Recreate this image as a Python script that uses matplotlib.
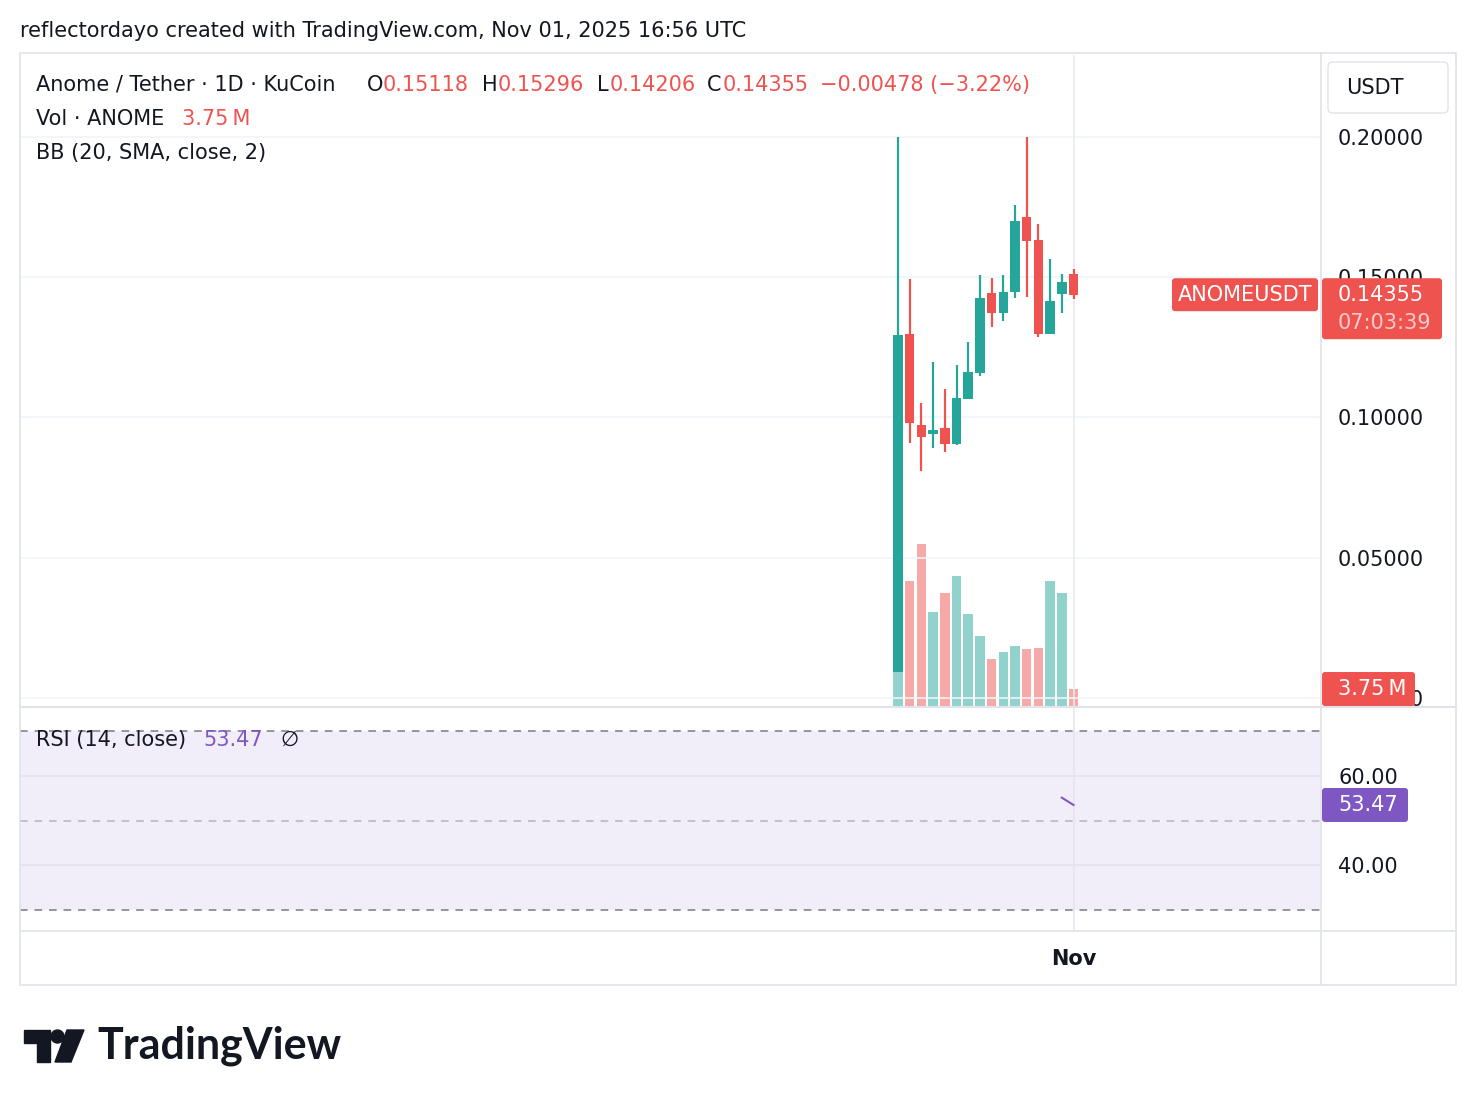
import matplotlib.pyplot as plt
import numpy as np
from matplotlib.patches import FancyBboxPatch, Rectangle, Polygon, Circle
from matplotlib.transforms import IdentityTransform

plt.rcParams['font.family'] = ['DejaVu Sans']

W, H = 1476, 1106

# ANOME/USDT daily candles (Oct 17 .. Nov 1)
opens = [0.0093, 0.1297, 0.0973, 0.0942, 0.0962, 0.0906, 0.1067, 0.1160,
         0.1443, 0.1373, 0.1448, 0.1714, 0.1632, 0.1298, 0.1441, 0.15118]
highs = [0.2000, 0.1493, 0.1051, 0.1197, 0.1101, 0.1187, 0.1269, 0.1507,
         0.1497, 0.1507, 0.1757, 0.2000, 0.1689, 0.1565, 0.1511, 0.15296]
lows = [0.0093, 0.0910, 0.0810, 0.0892, 0.0878, 0.0900, 0.1067, 0.1149,
        0.1323, 0.1345, 0.1427, 0.1430, 0.1288, 0.1298, 0.1373, 0.14206]
closes = [0.1294, 0.0981, 0.0931, 0.0955, 0.0906, 0.1069, 0.1162, 0.1426,
          0.1373, 0.1447, 0.1700, 0.1630, 0.1298, 0.1415, 0.1483, 0.14355]
volumes = [60.0, 27.6, 35.8, 20.8, 24.9, 28.7, 20.3, 15.5,
           10.4, 11.9, 13.2, 12.6, 12.8, 27.6, 24.9, 3.75]  # millions
rsi = [np.nan] * 14 + [55.1, 53.47]

price_ticks = [0.0, 0.05, 0.10, 0.15, 0.20]
rsi_ticks = [40, 60]
time_ticks = [15]
time_labels = ['Nov']

UP, DOWN = '#26A69A', '#EF5350'
UP_VOL, DOWN_VOL = '#92D2CC', '#F7A9A7'
TEXT = '#131722'
GRID = '#F0F3FA'
BORDER = '#E0E3EB'
PURPLE = '#7E57C2'
FS = 15

fig = plt.figure(figsize=(W / 100, H / 100), dpi=100)
fig.patch.set_facecolor('white')


def rect(l, t, r, b):
    return [l / W, 1 - b / H, (r - l) / W, (b - t) / H]


def px_text(x, y, s, **kw):
    kw.setdefault('fontsize', FS)
    kw.setdefault('color', TEXT)
    kw.setdefault('va', 'center')
    return fig.text(x / W, 1 - y / H, s, **kw)


def px_box(l, t, r, b, color, radius=3, edge='none', z=10):
    p = FancyBboxPatch((l, H - b), r - l, b - t,
                       boxstyle=f'round,pad=0,rounding_size={radius}',
                       transform=IdentityTransform(), facecolor=color,
                       edgecolor=edge, lw=1, zorder=z)
    fig.add_artist(p)


def px_line(xs, ys, **kw):
    fig.add_artist(plt.Line2D([x / W for x in xs], [1 - y / H for y in ys],
                              transform=fig.transFigure, **kw))


def data_y(axis, value):
    return H - axis.transData.transform((0, value))[1]


x = np.arange(len(opens))
step, first = 11.7, 898
xlim = ((20 - first) / step, (1320 - first) / step)
up = [c >= o for o, c in zip(opens, closes)]

# volume pane (behind candles)
vax = fig.add_axes(rect(20, 55, 1320, 706), zorder=1)
vax.bar(x, volumes, width=0.82, color=[UP_VOL if u else DOWN_VOL for u in up])
vax.set_xlim(xlim)
vax.set_ylim(0, 651 / 4.53)
vax.axis('off')

# price pane
ax = fig.add_axes(rect(20, 55, 1320, 706), zorder=2)
ax.patch.set_alpha(0)
for t in price_ticks:
    ax.axhline(t, color=GRID, lw=1.2, zorder=0)
ax.axvline(time_ticks[0], color='#E9EBF0', lw=1.2, zorder=0)
for i in x:
    col = UP if up[i] else DOWN
    ax.vlines(i, lows[i], highs[i], color=col, lw=1.6, zorder=3)
    body = max(abs(closes[i] - opens[i]), 0.0004)
    ax.bar(i, body, bottom=min(opens[i], closes[i]), width=0.82, color=col, zorder=4)
ax.set_xlim(xlim)
ax.set_ylim((698 - 706) / 2806, (698 - 55) / 2806)
ax.yaxis.tick_right()
ax.set_yticks(price_ticks)
ax.set_yticklabels([f'{t:.5f}' for t in price_ticks])
ax.tick_params(axis='y', length=0, pad=13, labelsize=FS, labelcolor=TEXT)
ax.set_xticks([])
for s in ax.spines.values():
    s.set_visible(False)

# RSI pane
rax = fig.add_axes(rect(20, 708, 1320, 930), zorder=1)
rax.axhspan(30, 70, color='#F2EEF9', lw=0, zorder=0)
for t in rsi_ticks:
    rax.axhline(t, color='#E4E0EC', lw=1.2, zorder=1)
rax.axvline(time_ticks[0], color='#E6E4EE', lw=1.2, zorder=1)
rax.axhline(70, color='#787B86', lw=1.1, ls=(0, (5, 4.5)), zorder=2)
rax.axhline(30, color='#787B86', lw=1.1, ls=(0, (5, 4.5)), zorder=2)
rax.axhline(50, color='#B2B5BE', lw=1.1, ls=(0, (5, 4.5)), zorder=2)
rax.plot(x, rsi, color=PURPLE, lw=1.5, zorder=3)
rax.set_xlim(xlim)
rax.set_ylim(30 - 20 / 4.475, 70 + 23 / 4.475)
rax.yaxis.tick_right()
rax.set_yticks(rsi_ticks)
rax.set_yticklabels([f'{t:.2f}' for t in rsi_ticks])
rax.set_xticks(time_ticks)
rax.set_xticklabels(time_labels, fontweight='bold')
rax.tick_params(axis='y', length=0, pad=13, labelsize=FS, labelcolor=TEXT)
rax.tick_params(axis='x', length=0, pad=14, labelsize=FS, labelcolor=TEXT)
for s in rax.spines.values():
    s.set_visible(False)

# frame and separators
fig.add_artist(Rectangle((20, H - 985), 1436, 932, transform=IdentityTransform(),
                         fill=False, edgecolor=BORDER, lw=1.2, zorder=6))
px_line([20, 1456], [707, 707], color=BORDER, lw=1.5, zorder=6)
px_line([20, 1456], [930.5, 930.5], color=BORDER, lw=1.2, zorder=6)
px_line([1320.5, 1320.5], [53, 985], color=BORDER, lw=1.2, zorder=6)

# header
px_text(20, 31, 'reflectordayo created with TradingView.com, Nov 01, 2025 16:56 UTC')

# currency box
px_box(1328, 62, 1448, 113, 'white', radius=5, edge=BORDER)
px_text(1346, 88, 'USDT', zorder=11)

# legend
px_text(36, 85, 'Anome / Tether · 1D · KuCoin')
for lx, letter, val in [(367, 'O', opens[-1]), (482, 'H', highs[-1]),
                        (597, 'L', lows[-1]), (707, 'C', closes[-1])]:
    px_text(lx, 85, letter)
    px_text(lx + (13 if letter == 'L' else 16), 85, f'{val:.5f}', color=DOWN)
px_text(820, 85, '\u22120.00478 (\u22123.22%)', color=DOWN)
px_text(36, 119, 'Vol · ANOME')
px_text(182, 119, f'{volumes[-1]:.2f}\u202fM', color=DOWN)
px_text(36, 153, 'BB (20, SMA, close, 2)')
px_text(36, 740, 'RSI (14, close)')
px_text(203, 740, f'{rsi[-1]:.2f}', color=PURPLE)
px_text(280, 740, '\u2205')

# last price label
cy = data_y(ax, closes[-1])
px_box(1172, cy - 17, 1318, cy + 16, DOWN)
px_text(1245, cy, 'ANOMEUSDT', color='white', ha='center', zorder=11)
px_box(1322, cy - 17, 1442, cy + 44, DOWN)
px_text(1338, cy, f'{closes[-1]:.5f}', color='white', zorder=11)
px_text(1338, cy + 28, '07:03:39', color='#FACBCA', zorder=11)

# last volume label
vy = data_y(vax, volumes[-1])
px_box(1322, vy - 17, 1415, vy + 17, DOWN)
px_text(1338, vy, f'{volumes[-1]:.2f}\u202fM', color='white', zorder=11)

# last RSI label
ry = data_y(rax, rsi[-1])
px_box(1322, ry - 17, 1408, ry + 17, PURPLE)
px_text(1338, ry, f'{rsi[-1]:.2f}', color='white', zorder=11)

# TradingView logo
logo = '#131722'
for poly in [[(24, 1030), (50, 1030), (50, 1062), (37, 1062), (37, 1043), (24, 1043)],
             [(67, 1030), (84, 1030), (71, 1062), (55, 1062)]]:
    fig.add_artist(Polygon([(a, H - b) for a, b in poly], closed=True,
                           transform=IdentityTransform(), color=logo, zorder=6))
fig.add_artist(Circle((57.5, H - 1036.5), 6.5, transform=IdentityTransform(),
                      color=logo, zorder=6))
px_text(97, 1046, 'TradingView', fontsize=31, fontweight='bold',
        family=['Lato', 'DejaVu Sans'], color=logo)

fig.savefig('out.png', dpi=100, facecolor='white')
